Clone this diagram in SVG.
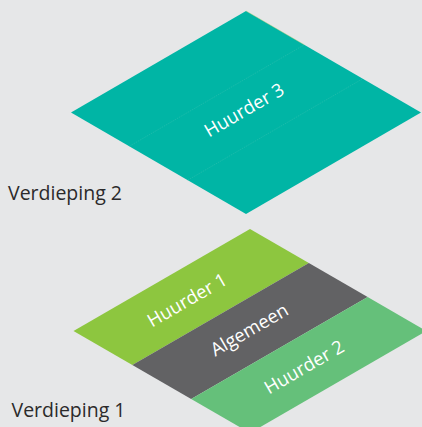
<svg xmlns="http://www.w3.org/2000/svg" width="422" height="427" viewBox="0 0 422 427">
  <style>
    .floor-label { font-family: "Open Sans", "Liberation Sans", sans-serif; font-size: 19.5px; fill: #2b2a2b; }
    .zone-label { font-family: "Open Sans", "Liberation Sans", sans-serif; font-size: 18.5px; fill: #ffffff; text-anchor: middle; }
    .seam { stroke: #3fc3b3; stroke-width: 0.6; stroke-dasharray: 1.5 1; fill: none; opacity: 0.7; }
  </style>
  <rect x="0" y="0" width="422" height="427" fill="#e6e7e8"/>

  <g id="verdieping-2">
    <g id="huurder-3">
      <polygon points="246,11 421,112.5 246,214 71,112.5" fill="#00b5a5"/>
      <line x1="246" y1="11" x2="304.3" y2="44.8" stroke="#b5cf6a" stroke-width="0.6" opacity="0.7"/>
      <line class="seam" x1="129.3" y1="146.3" x2="304.3" y2="44.8"/>
      <line class="seam" x1="187.7" y1="180.2" x2="362.7" y2="78.7"/>
      <text class="zone-label" transform="translate(244,110) rotate(-30)" x="0" y="6.5">Huurder 3</text>
    </g>
    <text id="label-verdieping-2" class="floor-label" x="8" y="199.5">Verdieping 2</text>
  </g>

  <g id="verdieping-1">
    <g id="huurder-1">
      <polygon points="73.5,331 250,229 308.83,263 132.33,365" fill="#8dc63f"/>
      <text class="zone-label" transform="translate(187,300) rotate(-30)" x="0" y="6.5">Huurder 1</text>
    </g>
    <g id="algemeen">
      <polygon points="132.33,365 308.83,263 367.67,297 191.17,399" fill="#626264"/>
      <text class="zone-label" transform="translate(250,331) rotate(-30)" x="0" y="5">Algemeen</text>
    </g>
    <g id="huurder-2">
      <polygon points="191.17,399 367.67,297 426.5,331 250,433" fill="#65c07a"/>
      <text class="zone-label" transform="translate(304,367) rotate(-30)" x="0" y="6.5">Huurder 2</text>
    </g>
    <text id="label-verdieping-1" class="floor-label" x="11.5" y="416.5">Verdieping 1</text>
  </g>
</svg>
